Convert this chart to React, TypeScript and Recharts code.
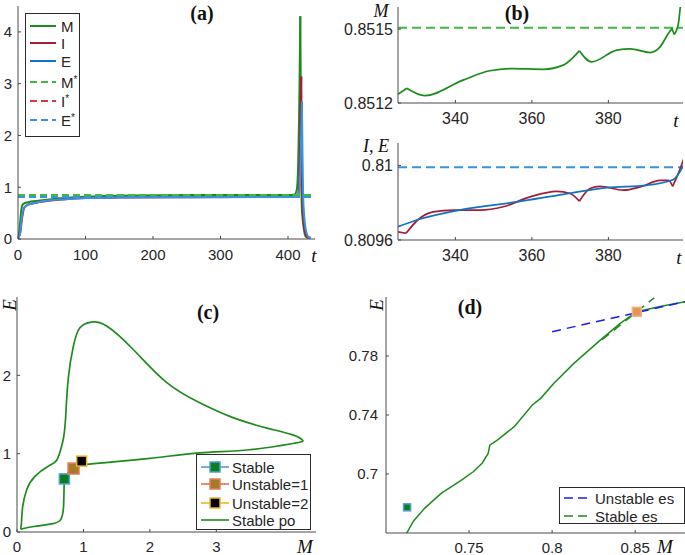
import React from 'react';
import { LineChart, ComposedChart, Line, Scatter, XAxis, YAxis } from 'recharts';

const SANS = '"Liberation Sans", Arial, Helvetica, sans-serif';
const SERIF = '"Liberation Serif", "Times New Roman", serif';
const INK = '#262626';
const AXIS_C = '#4a4a4a';

const GREEN = '#1d8c1d';
const GREEN_LIGHT = '#3dbb3d';
const RED = '#a51d3a';
const RED_LIGHT = '#d8344e';
const BLUE = '#1273c0';
const BLUE_LIGHT = '#3a93e2';
const PURE_BLUE = '#1a1aff';

// equilibrium values
const M_STAR = 0.851506;
const I_STAR = 0.81;
const E_STAR = 0.80999;

// (a) full run, t in [0, 440]
const A_T_M = [0, 2, 4, 6, 8, 15, 30, 50, 80, 120, 180, 250, 350, 405, 410, 413, 415, 416.5, 417.5, 418.2, 419, 419.7, 420.5, 422, 424, 426, 428, 432];
const A_M = [0.02, 0.15, 0.45, 0.64, 0.68, 0.71, 0.74, 0.77, 0.8, 0.825, 0.84, 0.848, 0.851, 0.852, 0.86, 0.95, 1.4, 2.4, 3.5, 4.3, 2.8, 1.2, 0.6, 0.35, 0.15, 0.05, 0.03, 0.03];
const A_T_I = [0, 3, 6, 9, 13, 20, 40, 70, 100, 150, 250, 350, 410, 414, 416, 417.5, 418.5, 419.6, 420.3, 421, 423, 426, 430, 433];
const A_I = [0.02, 0.1, 0.4, 0.6, 0.65, 0.68, 0.73, 0.77, 0.79, 0.8, 0.807, 0.8097, 0.81, 0.83, 0.95, 1.5, 2.4, 3.14, 2.0, 0.9, 0.35, 0.1, 0.03, 0.03];
const A_T_E = [0, 3, 5, 8, 13, 20, 37, 70, 100, 150, 250, 350, 412, 416, 418, 419.5, 420.6, 421.5, 422.5, 425, 428, 431, 434];
const A_E = [0.02, 0.1, 0.35, 0.57, 0.65, 0.68, 0.73, 0.77, 0.79, 0.8, 0.807, 0.8097, 0.81, 0.86, 1.2, 2.0, 2.65, 1.6, 0.8, 0.3, 0.1, 0.03, 0.02];
const A_PEAKS = [418.2, 419.6, 420.6];
const A_STAR_RANGE = [0, 434];
const A_X_TICKS = [0, 100, 200, 300, 400];
const A_Y_TICKS = [0, 1, 2, 3, 4];

// (b) zoom on t in [325, 400]
const B_T_M = [325, 327.3, 332, 342, 349, 355.2, 363, 368.2, 372.4, 375.6, 382.2, 385.7, 390.9, 393.5, 395.7, 396.6, 397.2, 398.3, 398.8, 399.4];
const B_M = [0.851235, 0.85126, 0.85123, 0.851293, 0.851331, 0.85134, 0.851337, 0.851354, 0.851412, 0.851367, 0.851415, 0.85142, 0.851405, 0.851428, 0.851483, 0.851503, 0.851478, 0.851523, 0.85159, 0.85166];
const B_M_CUSPS = [327.3, 372.4, 396.6, 397.2];
const B_T_I = [325, 327.1, 330.3, 334.2, 339.5, 346.4, 352.5, 359.5, 366.5, 370, 372.4, 375.2, 377.8, 383.9, 388.3, 393.5, 395.7, 396.8, 397.9, 399.8];
const B_I = [0.809644, 0.809636, 0.80971, 0.809751, 0.80976, 0.80976, 0.809778, 0.809831, 0.809861, 0.809849, 0.809808, 0.809876, 0.809888, 0.809867, 0.809884, 0.80992, 0.80992, 0.809888, 0.809938, 0.810041];
const B_I_CUSPS = [327.1, 372.4, 396.8];
const B_T_E = [325, 329.9, 342, 356, 368.2, 379.6, 390, 397, 399.6];
const B_E = [0.809671, 0.809707, 0.809764, 0.809804, 0.809845, 0.809881, 0.809893, 0.809924, 0.81];
const B_RANGE = [325, 399.5];
const B_X_TICKS = [340, 360, 380];
const B_M_TICKS = [0.8512, 0.8515];
const B_IE_TICKS = [0.8096, 0.81];

// (c) periodic orbit in the (M, E) plane
const C_M = [0.056, 0.07, 0.085, 0.146, 0.27, 0.47, 0.6, 0.67, 0.7, 0.73, 0.77, 0.85, 0.95, 1.12, 1.35, 1.75, 2.25, 2.75, 3.25, 3.75, 4.15, 4.3, 4.15, 3.5, 2.75, 2.0, 1.24, 0.9, 0.78, 0.73, 0.71, 0.7, 0.65, 0.5, 0.25, 0.056];
const C_E = [0.035, 0.15, 0.32, 0.54, 0.71, 0.84, 0.92, 1.09, 1.2, 1.44, 1.95, 2.38, 2.61, 2.68, 2.63, 2.33, 1.91, 1.65, 1.46, 1.33, 1.24, 1.17, 1.13, 1.05, 1.01, 0.94, 0.88, 0.84, 0.77, 0.7, 0.62, 0.32, 0.15, 0.1, 0.07, 0.035];
const EQ_M = [0.7127, 0.851, 0.973];
const EQ_E = [0.6774, 0.81, 0.905];
const C_X_TICKS = [0, 1, 2, 3];
const C_Y_TICKS = [0, 1, 2];

// (d) close-up near the unstable equilibrium
const D_M = [0.7115, 0.7165, 0.7232, 0.7332, 0.745, 0.7525, 0.758, 0.7615, 0.7625, 0.7672, 0.7772, 0.7881, 0.7931, 0.8011, 0.8131, 0.829, 0.841, 0.851, 0.865, 0.88];
const D_E = [0.658, 0.668, 0.6767, 0.6869, 0.6955, 0.7015, 0.7075, 0.714, 0.7195, 0.7231, 0.7321, 0.7468, 0.7513, 0.7615, 0.775, 0.7908, 0.8021, 0.81, 0.8135, 0.8168];
const D_UNSTABLE_M = [0.8, 0.88];
const D_UNSTABLE_E = [0.7965, 0.8168];
const D_STABLE_M = [0.83, 0.8615];
const D_STABLE_E = [0.791, 0.8195];
const D_X_TICKS = [0.75, 0.8, 0.85];
const D_Y_TICKS = [0.7, 0.74, 0.78];

type Pt = { x: number; y: number };
const zip = (xs: number[], ys: number[]): Pt[] => xs.map((x, i) => ({ x, y: ys[i] }));
const flat = (range: number[], v: number): Pt[] => range.map((x) => ({ x, y: v }));

// break a series at cusp points so the smooth curve keeps its corners
const splitAt = (pts: Pt[], cuts: number[]): Pt[][] => {
  const segs: Pt[][] = [];
  let cur: Pt[] = [];
  for (const p of pts) {
    cur.push(p);
    if (cuts.includes(p.x) && cur.length > 1) {
      segs.push(cur);
      cur = [p];
    }
  }
  if (cur.length > 1) segs.push(cur);
  return segs;
};

const tickFont = { fill: INK, fontSize: 15, fontFamily: SANS };
const tickFontB = { ...tickFont, fontSize: 16 };
const axisCommon = {
  type: 'number' as const,
  allowDataOverflow: true,
  axisLine: { stroke: AXIS_C, strokeWidth: 1 },
  tickLine: { stroke: AXIS_C },
  tickSize: -3,
  tick: tickFont,
  interval: 0 as const,
};

const lineBase = { dataKey: 'y', dot: false, activeDot: false, isAnimationActive: false } as const;

function Txt({ x, y, children, style }: { x: number; y: number; children: React.ReactNode; style?: React.CSSProperties }) {
  return (
    <div
      style={{
        position: 'absolute',
        left: x,
        top: y,
        transform: 'translate(-50%, -50%)',
        whiteSpace: 'nowrap',
        lineHeight: 1,
        color: INK,
        ...style,
      }}
    >
      {children}
    </div>
  );
}

const title = { fontFamily: SERIF, fontWeight: 700, fontSize: 20, color: '#111' };
const italic = { fontFamily: SERIF, fontStyle: 'italic', fontSize: 19, color: '#111' };

const square = (fill: string, stroke: string, size: number) => (props: any) => (
  <rect x={props.cx - size / 2} y={props.cy - size / 2} width={size} height={size} fill={fill} stroke={stroke} strokeWidth={1.5} />
);

const A_LEGEND = [
  { name: 'M', star: false, color: GREEN, dash: undefined, top: 3 },
  { name: 'I', star: false, color: RED, dash: undefined, top: 20 },
  { name: 'E', star: false, color: BLUE, dash: undefined, top: 38 },
  { name: 'M', star: true, color: GREEN_LIGHT, dash: '7 4', top: 59 },
  { name: 'I', star: true, color: RED_LIGHT, dash: '7 4', top: 78 },
  { name: 'E', star: true, color: BLUE_LIGHT, dash: '7 4', top: 97 },
];

const C_LEGEND = [
  { name: 'Stable', line: '#4f9fdc', fill: '#0a7f1a', edge: '#4f9fdc', marker: true, top: 3 },
  { name: 'Unstable=1', line: '#e3714a', fill: '#a67a28', edge: '#e3805a', marker: true, top: 20 },
  { name: 'Unstable=2', line: '#eeb62c', fill: '#000000', edge: '#eeb62c', marker: true, top: 39 },
  { name: 'Stable po', line: GREEN, fill: '', edge: '', marker: false, top: 56 },
];

const D_LEGEND = [
  { name: 'Unstable es', color: PURE_BLUE, top: 1 },
  { name: 'Stable es', color: GREEN, top: 19 },
];

const legendBox: React.CSSProperties = {
  position: 'absolute',
  border: '1px solid #2b2b2b',
  background: '#fff',
  boxSizing: 'border-box',
};
const rowStyle: React.CSSProperties = { position: 'absolute', left: 3, height: 18, display: 'flex', alignItems: 'center' };
const legendText: React.CSSProperties = { marginLeft: 4, fontFamily: SANS, fontSize: 15, color: INK, lineHeight: 1, whiteSpace: 'nowrap' };

export default function App() {
  return (
    <div style={{ position: 'absolute', left: 0, top: 0, width: 685, height: 555, background: '#fff', overflow: 'hidden' }}>
      {/* (a) */}
      <div style={{ position: 'absolute', left: 0, top: 0 }}>
        <LineChart width={330} height={270} margin={{ top: 6, right: 15, bottom: 0, left: 0 }}>
          <XAxis {...axisCommon} dataKey="x" domain={[0, 440]} ticks={A_X_TICKS} height={31} tickMargin={13} />
          <YAxis {...axisCommon} dataKey="y" domain={[0, 4.5]} ticks={A_Y_TICKS} width={18} tickMargin={9} />
          {splitAt(zip(A_T_M, A_M), A_PEAKS).map((seg, i) => (
            <Line key={'am' + i} {...lineBase} data={seg} type="monotone" stroke={GREEN} strokeWidth={2} />
          ))}
          {splitAt(zip(A_T_I, A_I), A_PEAKS).map((seg, i) => (
            <Line key={'ai' + i} {...lineBase} data={seg} type="monotone" stroke={RED} strokeWidth={2} />
          ))}
          {splitAt(zip(A_T_E, A_E), A_PEAKS).map((seg, i) => (
            <Line key={'ae' + i} {...lineBase} data={seg} type="monotone" stroke={BLUE_LIGHT} strokeWidth={2} />
          ))}
          <Line {...lineBase} data={flat(A_STAR_RANGE, M_STAR)} type="linear" stroke={GREEN_LIGHT} strokeWidth={2} strokeDasharray="7 4" />
          <Line {...lineBase} data={flat(A_STAR_RANGE, I_STAR)} type="linear" stroke={RED_LIGHT} strokeWidth={2} strokeDasharray="7 4" />
          <Line {...lineBase} data={flat(A_STAR_RANGE, E_STAR)} type="linear" stroke={BLUE_LIGHT} strokeWidth={2} strokeDasharray="7 4" />
        </LineChart>
      </div>
      <div style={{ ...legendBox, left: 25, top: 13, width: 55, height: 124 }}>
        {A_LEGEND.map((it, i) => (
          <div key={i} style={{ ...rowStyle, top: it.top }}>
            <svg width={28} height={18}>
              <line x1={1} x2={27} y1={9} y2={9} stroke={it.color} strokeWidth={2} strokeDasharray={it.dash} />
            </svg>
            <span style={legendText}>
              {it.name}
              {it.star && <span style={{ fontSize: 10, position: 'relative', top: -5 }}>*</span>}
            </span>
          </div>
        ))}
      </div>
      <Txt x={202} y={13} style={title}>(a)</Txt>
      <Txt x={314} y={255} style={italic}>t</Txt>

      {/* (b) top: M */}
      <div style={{ position: 'absolute', left: 330, top: 0 }}>
        <LineChart width={355} height={130} margin={{ top: 7, right: 2, bottom: 0, left: 0 }}>
          <XAxis {...axisCommon} tick={tickFontB} dataKey="x" domain={B_RANGE} ticks={B_X_TICKS} height={27} tickMargin={13} />
          <YAxis {...axisCommon} tick={tickFontB} dataKey="y" domain={[0.8512, 0.85159]} ticks={B_M_TICKS} width={68} tickMargin={8} />
          <Line {...lineBase} data={flat(B_RANGE, M_STAR)} type="linear" stroke={GREEN_LIGHT} strokeWidth={2} strokeDasharray="9 5" />
          {splitAt(zip(B_T_M, B_M), B_M_CUSPS).map((seg, i) => (
            <Line key={'bm' + i} {...lineBase} data={seg} type="monotone" stroke={GREEN} strokeWidth={1.7} />
          ))}
        </LineChart>
      </div>
      <Txt x={517} y={13} style={title}>(b)</Txt>
      <Txt x={381} y={11} style={{ ...italic, fontSize: 18 }}>M</Txt>
      <Txt x={676} y={120} style={italic}>t</Txt>

      {/* (b) bottom: I, E */}
      <div style={{ position: 'absolute', left: 330, top: 130 }}>
        <LineChart width={355} height={140} margin={{ top: 13, right: 2, bottom: 0, left: 0 }}>
          <XAxis {...axisCommon} tick={tickFontB} dataKey="x" domain={B_RANGE} ticks={B_X_TICKS} height={30} tickMargin={13} />
          <YAxis {...axisCommon} tick={tickFontB} dataKey="y" domain={[0.8096, 0.81012]} ticks={B_IE_TICKS} width={68} tickMargin={8} />
          <Line {...lineBase} data={flat(B_RANGE, E_STAR)} type="linear" stroke={BLUE_LIGHT} strokeWidth={2} strokeDasharray="9 5" />
          {splitAt(zip(B_T_I, B_I), B_I_CUSPS).map((seg, i) => (
            <Line key={'bi' + i} {...lineBase} data={seg} type="monotone" stroke={RED} strokeWidth={1.7} />
          ))}
          <Line {...lineBase} data={zip(B_T_E, B_E)} type="monotone" stroke={BLUE} strokeWidth={1.7} />
        </LineChart>
      </div>
      <Txt x={376} y={146} style={{ ...italic, fontSize: 18 }}>I, E</Txt>
      <Txt x={679} y={257} style={italic}>t</Txt>

      {/* (c) */}
      <div style={{ position: 'absolute', left: 0, top: 270 }}>
        <ComposedChart width={340} height={285} margin={{ top: 27, right: 24, bottom: 0, left: 0 }}>
          <XAxis {...axisCommon} dataKey="x" domain={[0, 4.5]} ticks={C_X_TICKS} height={23} tickMargin={12} />
          <YAxis {...axisCommon} dataKey="y" domain={[0, 3]} ticks={C_Y_TICKS} width={17} tickMargin={9} />
          <Line {...lineBase} data={zip(C_M, C_E)} type="natural" stroke={GREEN} strokeWidth={1.7} />
          <Scatter data={[{ x: EQ_M[0], y: EQ_E[0] }]} shape={square('#0a7f1a', '#4f9fdc', 10)} isAnimationActive={false} />
          <Scatter data={[{ x: EQ_M[1], y: EQ_E[1] }]} shape={square('#a67a28', '#e3805a', 11)} isAnimationActive={false} />
          <Scatter data={[{ x: EQ_M[2], y: EQ_E[2] }]} shape={square('#000000', '#eeb62c', 10)} isAnimationActive={false} />
        </ComposedChart>
      </div>
      <div style={{ ...legendBox, left: 196, top: 454, width: 115, height: 76 }}>
        {C_LEGEND.map((it) => (
          <div key={it.name} style={{ ...rowStyle, top: it.top }}>
            <svg width={30} height={18}>
              <line x1={1} x2={29} y1={9} y2={9} stroke={it.line} strokeWidth={1.6} />
              {it.marker && <rect x={10} y={4} width={10} height={10} fill={it.fill} stroke={it.edge} strokeWidth={1.5} />}
            </svg>
            <span style={{ ...legendText, marginLeft: 2 }}>{it.name}</span>
          </div>
        ))}
      </div>
      <Txt x={208} y={312} style={title}>(c)</Txt>
      <Txt x={9} y={305} style={{ ...italic, transform: 'translate(-50%, -50%) rotate(-90deg)' }}>E</Txt>
      <Txt x={305} y={546} style={italic}>M</Txt>

      {/* (d) */}
      <div style={{ position: 'absolute', left: 340, top: 270 }}>
        <ComposedChart width={345} height={285} margin={{ top: 27, right: 0, bottom: 0, left: 0 }}>
          <XAxis {...axisCommon} dataKey="x" domain={[0.7, 0.88]} ticks={D_X_TICKS} height={22} tickMargin={12} />
          <YAxis {...axisCommon} dataKey="y" domain={[0.66, 0.82]} ticks={D_Y_TICKS} width={46} tickMargin={11} />
          <Line {...lineBase} data={zip(D_M, D_E)} type="linear" stroke={GREEN} strokeWidth={1.5} />
          <Line {...lineBase} data={zip(D_UNSTABLE_M, D_UNSTABLE_E)} type="linear" stroke={PURE_BLUE} strokeWidth={1.5} strokeDasharray="9 6" />
          <Line {...lineBase} data={zip(D_STABLE_M, D_STABLE_E)} type="linear" stroke={GREEN} strokeWidth={1.5} strokeDasharray="9 6" />
          <Scatter data={[{ x: EQ_M[0], y: EQ_E[0] }]} shape={square('#0a7f1a', '#4f9fdc', 7)} isAnimationActive={false} />
          <Scatter data={[{ x: EQ_M[1], y: EQ_E[1] }]} shape={square('#e39658', '#f0b488', 9)} isAnimationActive={false} />
        </ComposedChart>
      </div>
      <div style={{ ...legendBox, left: 559, top: 487, width: 126, height: 37 }}>
        {D_LEGEND.map((it) => (
          <div key={it.name} style={{ ...rowStyle, top: it.top }}>
            <svg width={28} height={18}>
              <line x1={1} x2={27} y1={9} y2={9} stroke={it.color} strokeWidth={1.5} strokeDasharray="9 5" />
            </svg>
            <span style={legendText}>{it.name}</span>
          </div>
        ))}
      </div>
      <Txt x={470} y={307} style={title}>(d)</Txt>
      <Txt x={376} y={305} style={{ ...italic, transform: 'translate(-50%, -50%) rotate(-90deg)' }}>E</Txt>
      <Txt x={665} y={546} style={italic}>M</Txt>
    </div>
  );
}
